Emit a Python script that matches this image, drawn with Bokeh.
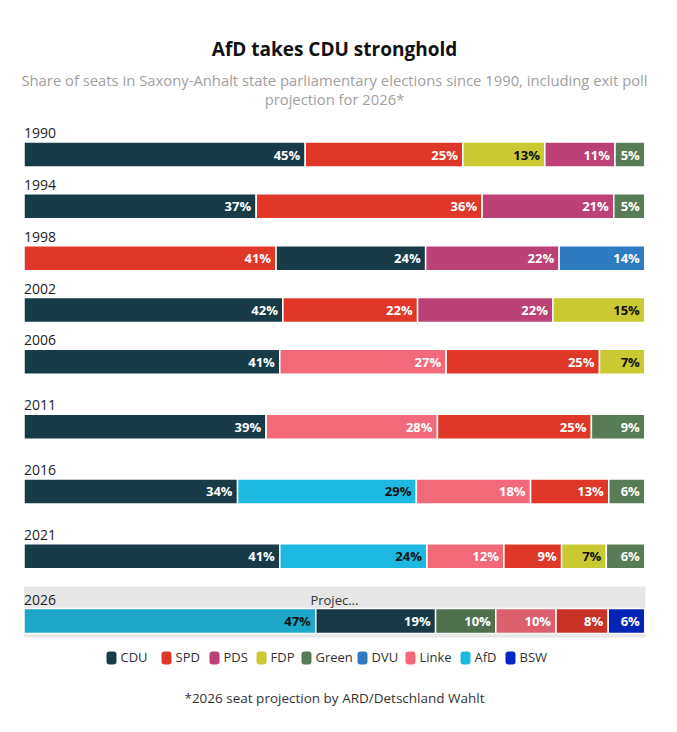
from bokeh.plotting import figure
from bokeh.models import Range1d, ColumnDataSource
from bokeh.core.properties import value
from bokeh.embed import file_html
from bokeh.resources import INLINE

# ---------------- data ----------------
years = [1990, 1994, 1998, 2002, 2006, 2011, 2016, 2021, 2026]

parties_1990 = ["CDU", "SPD", "FDP", "PDS", "Green"]
shares_1990 = [45.3, 25.4, 13.2, 11.3, 4.8]
parties_1994 = ["CDU", "SPD", "PDS", "Green"]
shares_1994 = [37.4, 36.4, 21.2, 5.0]
parties_1998 = ["SPD", "CDU", "PDS", "DVU"]
shares_1998 = [40.6, 24.1, 21.5, 13.8]
parties_2002 = ["CDU", "SPD", "PDS", "FDP"]
shares_2002 = [41.7, 21.7, 21.8, 14.8]
parties_2006 = ["CDU", "Linke", "SPD", "FDP"]
shares_2006 = [41.2, 26.8, 24.7, 7.3]
parties_2011 = ["CDU", "Linke", "SPD", "Green"]
shares_2011 = [39.0, 27.6, 24.8, 8.6]
parties_2016 = ["CDU", "AfD", "Linke", "SPD", "Green"]
shares_2016 = [34.4, 28.8, 18.4, 12.6, 5.8]
parties_2021 = ["CDU", "AfD", "Linke", "SPD", "FDP", "Green"]
shares_2021 = [41.2, 23.7, 12.4, 9.3, 7.2, 6.2]
parties_2026 = ["AfD", "CDU", "Green", "Linke", "SPD", "BSW"]
shares_2026 = [47.0, 19.3, 9.7, 9.7, 8.4, 5.9]

legend_parties = ["CDU", "SPD", "PDS", "FDP", "Green", "DVU", "Linke", "AfD", "BSW"]
legend_colors = ["#183b48", "#df3828", "#bc4177", "#c9c932", "#587c58",
                 "#2f7bc1", "#f26a7a", "#1eb9e0", "#0427c4"]
# 2026 row is drawn in slightly darker (highlighted) tones
colors_2026 = ["#1ca7c9", "#173a46", "#4f6f4f", "#db5f6c", "#c93227", "#0424b4"]
dark_text_parties = ["FDP", "AfD"]

title_text = "AfD takes CDU stronghold"
subtitle_lines = ["Share of seats in Saxony-Anhalt state parliamentary elections since 1990, including exit poll",
                  "projection for 2026*"]
footnote_text = "*2026 seat projection by ARD/Detschland Wahlt"
projection_text = "Projec..."

rows = [
    (1990, parties_1990, shares_1990),
    (1994, parties_1994, shares_1994),
    (1998, parties_1998, shares_1998),
    (2002, parties_2002, shares_2002),
    (2006, parties_2006, shares_2006),
    (2011, parties_2011, shares_2011),
    (2016, parties_2016, shares_2016),
    (2021, parties_2021, shares_2021),
    (2026, parties_2026, shares_2026),
]

# ---------------- geometry (layout only) ----------------
W, H = 661, 716
PX_PER_PCT = 6.208      # 100 % = ~621 px
X0_PX = 23.5            # canvas px where 0 % sits
PX_PER_YEAR = 12.96
Y1990_PX = 154.0        # canvas px of 1990 bar centre
legend_left_px = [106, 161, 209, 256, 301, 357, 405, 460, 505]
LEGEND_Y_PX = 657.5

x_start = -X0_PX / PX_PER_PCT
x_end = (W - X0_PX) / PX_PER_PCT
y_top = 1990 - Y1990_PX / PX_PER_YEAR
y_bottom = 1990 + (H - Y1990_PX) / PX_PER_YEAR


def dx(px):
    return px / PX_PER_PCT


def dy(px):
    return px / PX_PER_YEAR


def cx(px):  # canvas px -> data x
    return x_start + px / PX_PER_PCT


def cy(px):  # canvas px -> data y
    return y_top + px / PX_PER_YEAR


FONT = value("Open Sans")

p = figure(width=W, height=H, output_backend="svg", toolbar_location=None,
           x_range=Range1d(x_start, x_end), y_range=Range1d(y_bottom, y_top),
           x_axis_type=None, y_axis_type=None, min_border=0)
p.grid.visible = False
p.outline_line_color = None
p.background_fill_color = "white"

color_map = dict(zip(legend_parties, legend_colors))

# segments
seg = dict(y=[], left=[], right=[], color=[], label=[], lx=[], tcolor=[])
for yr, parties, shares in rows:
    left = 0.0
    for i, (pty, sh) in enumerate(zip(parties, shares)):
        right = left + sh
        c = colors_2026[i] if yr == 2026 else color_map[pty]
        seg["y"].append(yr)
        seg["left"].append(left)
        seg["right"].append(right)
        seg["color"].append(c)
        seg["label"].append(f"{round(sh)}%")
        seg["lx"].append(right - dx(5))
        seg["tcolor"].append("#111111" if pty in dark_text_parties else "white")
        left = right
src = ColumnDataSource(seg)

# 2026 highlight box
p.quad(left=[0], right=[100.1], top=[2026 - dy(34.5)], bottom=[2026 + dy(16.5)],
       fill_color="#e6e6e6", line_color=None)

p.hbar(y="y", left="left", right="right", height=dy(25), fill_color="color",
       line_color="white", line_width=1.5, source=src)

p.text(x="lx", y="y", text="label", text_color="tcolor", text_align="right",
       text_baseline="middle", text_font=FONT, text_font_size="13px",
       text_font_style="bold", source=src)

# year labels
p.text(x=[0] * len(years), y=[yr - dy(21.5) for yr in years], text=[str(y) for y in years],
       text_color="#222222", text_align="left", text_baseline="middle",
       text_font=FONT, text_font_size="14px")

p.text(x=[50], y=[2026 - dy(21.5)], text=[projection_text], text_color="#333333",
       text_align="center", text_baseline="middle", text_font=FONT, text_font_size="13px")

# title / subtitle / footnote
CX = cx(334)
p.text(x=[CX], y=[cy(48)], text=[title_text], text_color="#111111", text_align="center",
       text_baseline="middle", text_font=FONT, text_font_size="19px", text_font_style="bold")
p.text(x=[CX, CX], y=[cy(79), cy(98)], text=subtitle_lines, text_color="#a0a0a0",
       text_align="center", text_baseline="middle", text_font=FONT, text_font_size="14.8px")
p.text(x=[CX], y=[cy(697)], text=[footnote_text], text_color="#333333", text_align="center",
       text_baseline="middle", text_font=FONT, text_font_size="13.5px")

# legend: rounded swatches + labels
leg_src = ColumnDataSource(dict(
    left=[cx(px) for px in legend_left_px],
    right=[cx(px + 10) for px in legend_left_px],
    tx=[cx(px + 14) for px in legend_left_px],
    color=legend_colors,
    name=legend_parties,
))
p.quad(left="left", right="right", top=cy(LEGEND_Y_PX - 6.5), bottom=cy(LEGEND_Y_PX + 6.5),
       fill_color="color", line_color=None, border_radius=3, source=leg_src)
p.text(x="tx", y=cy(LEGEND_Y_PX - 1), text="name", text_color="#333333", text_align="left",
       text_baseline="middle", text_font=FONT, text_font_size="13px", source=leg_src)

open("out.html", "w").write(file_html(p, INLINE))
